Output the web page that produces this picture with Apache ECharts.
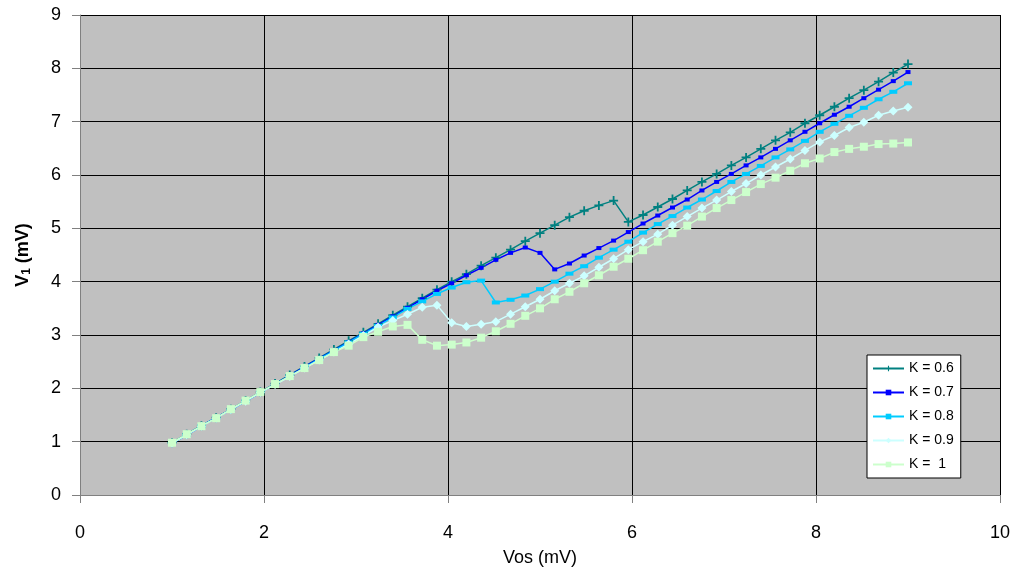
<!DOCTYPE html>
<html>
<head>
<meta charset="utf-8">
<script src="https://cdn.jsdelivr.net/npm/echarts@6/dist/echarts.min.js"></script>
<style>html,body{margin:0;padding:0;background:#fff;}#c{width:1019px;height:572px;}</style>
</head>
<body>
<div id="c"></div>
<script>
// Vos (mV) values: 1.00 .. 9.00 step 0.16
const vos = [1.00,1.16,1.32,1.48,1.64,1.80,1.96,2.12,2.28,2.44,2.60,2.76,2.92,3.08,3.24,3.40,3.56,3.72,3.88,4.04,4.20,4.36,4.52,4.68,4.84,5.00,5.16,5.32,5.48,5.64,5.80,5.96,6.12,6.28,6.44,6.60,6.76,6.92,7.08,7.24,7.40,7.56,7.72,7.88,8.04,8.20,8.36,8.52,8.68,8.84,9.00];
const seriesNames = ['K = 0.6','K = 0.7','K = 0.8','K = 0.9','K =  1'];
const k06 = [0.98,1.14,1.30,1.45,1.61,1.77,1.93,2.09,2.25,2.41,2.57,2.73,2.89,3.05,3.21,3.37,3.53,3.69,3.85,4.00,4.14,4.30,4.45,4.60,4.76,4.91,5.06,5.21,5.33,5.43,5.52,5.12,5.25,5.40,5.55,5.71,5.87,6.02,6.18,6.33,6.49,6.65,6.80,6.97,7.12,7.28,7.44,7.59,7.75,7.92,8.08];
const k07 = [0.97,1.13,1.29,1.45,1.60,1.76,1.92,2.08,2.24,2.40,2.56,2.71,2.87,3.03,3.19,3.35,3.51,3.67,3.83,3.97,4.12,4.26,4.41,4.54,4.64,4.54,4.23,4.34,4.49,4.63,4.77,4.93,5.09,5.24,5.39,5.54,5.71,5.87,6.02,6.18,6.33,6.49,6.65,6.81,6.97,7.13,7.28,7.44,7.60,7.76,7.93];
const k08 = [0.97,1.13,1.29,1.45,1.60,1.76,1.92,2.08,2.23,2.39,2.55,2.70,2.86,3.02,3.17,3.33,3.49,3.63,3.77,3.89,3.99,4.02,3.61,3.66,3.74,3.86,4.00,4.15,4.29,4.45,4.60,4.75,4.92,5.08,5.23,5.39,5.54,5.70,5.87,6.02,6.17,6.33,6.48,6.64,6.81,6.96,7.11,7.26,7.42,7.56,7.72];
const k09 = [0.97,1.13,1.29,1.44,1.60,1.76,1.92,2.07,2.22,2.38,2.53,2.68,2.83,2.99,3.15,3.27,3.39,3.52,3.56,3.23,3.16,3.20,3.25,3.39,3.53,3.67,3.83,3.97,4.11,4.27,4.43,4.60,4.75,4.89,5.06,5.22,5.38,5.53,5.69,5.84,6.00,6.15,6.30,6.46,6.62,6.74,6.89,6.99,7.12,7.20,7.27];
const k10 = [0.98,1.14,1.29,1.44,1.61,1.77,1.93,2.08,2.23,2.38,2.53,2.68,2.80,2.96,3.06,3.16,3.19,2.91,2.80,2.82,2.86,2.95,3.07,3.21,3.36,3.50,3.67,3.81,3.97,4.12,4.28,4.43,4.59,4.75,4.91,5.05,5.22,5.38,5.53,5.68,5.83,5.95,6.08,6.22,6.31,6.43,6.49,6.53,6.58,6.59,6.61];
const xTicks = [0,2,4,6,8,10];
const yTicks = [0,1,2,3,4,5,6,7,8,9];

const allVals = [k06,k07,k08,k09,k10];
const colors = ['#008080','#0000FF','#00CCFF','#CCFFFF','#CCFFCC'];
const symbols = [
  'path://M4,0H6V4H10V6H6V10H4V6H0V4H4Z',
  'rect',
  'path://M0,0H10V5H0Z',
  'diamond',
  'rect'
];
const sizes = [[9,9],[5,4],[8,4],[9,9],[8,8]];

const chart = echarts.init(document.getElementById('c'));
const series = allVals.map((vals, s) => ({
  name: seriesNames[s],
  type: 'line',
  data: vos.map((x, i) => [x, vals[i]]),
  symbol: symbols[s],
  symbolSize: sizes[s],
  showAllSymbol: true,
  lineStyle: { color: colors[s], width: 1.5 },
  itemStyle: { color: colors[s] },
  emphasis: { disabled: true },
  animation: false
}));

chart.setOption({
  animation: false,
  textStyle: { fontFamily: 'Liberation Sans, Arial, sans-serif' },
  grid: { left: 80, right: 19, top: 15, bottom: 77, show: true, backgroundColor: '#C0C0C0', borderWidth: 0 },
  xAxis: {
    type: 'value', min: xTicks[0], max: xTicks[xTicks.length-1], interval: 2,
    name: 'Vos (mV)', nameLocation: 'middle', nameGap: 54,
    nameTextStyle: { color: '#000', fontSize: 18, fontFamily: 'Liberation Sans' },
    axisLine: { show: true, lineStyle: { color: '#808080', width: 1 } },
    axisTick: { show: true, inside: false, length: 8, lineStyle: { color: '#808080' } },
    axisLabel: { color: '#000', fontSize: 18, margin: 29, fontFamily: 'Liberation Sans' },
    splitLine: { show: true, lineStyle: { color: '#000', width: 1 } }
  },
  yAxis: {
    type: 'value', min: yTicks[0], max: yTicks[yTicks.length-1], interval: 1,
    name: '{a|V}{b|1}{a| (mV)}', nameLocation: 'middle', nameGap: 47, nameRotate: 90,
    nameTextStyle: {
      rich: {
        a: { fontSize: 18, fontWeight: 'bold', color: '#000', fontFamily: 'Liberation Sans' },
        b: { fontSize: 12, fontWeight: 'bold', color: '#000', fontFamily: 'Liberation Sans', verticalAlign: 'bottom', padding: [8,0,0,0] }
      }
    },
    axisLine: { show: true, lineStyle: { color: '#808080', width: 1 } },
    axisTick: { show: true, inside: false, length: 8, lineStyle: { color: '#808080' } },
    axisLabel: { color: '#000', fontSize: 18, margin: 19, fontFamily: 'Liberation Sans' },
    splitLine: { show: true, lineStyle: { color: '#000', width: 1 } }
  },
  legend: {
    orient: 'vertical', left: 867, top: 355,
    backgroundColor: '#fff', borderColor: '#000', borderWidth: 1,
    padding: [5, 7, 5, 5],
    itemWidth: 31, itemHeight: 7, itemGap: 7,
    textStyle: { color: '#000', fontSize: 14, lineHeight: 17, fontFamily: 'Liberation Sans', padding: [0,0,0,0] },
    data: seriesNames
  },
  series: series
});
</script>
</body>
</html>
